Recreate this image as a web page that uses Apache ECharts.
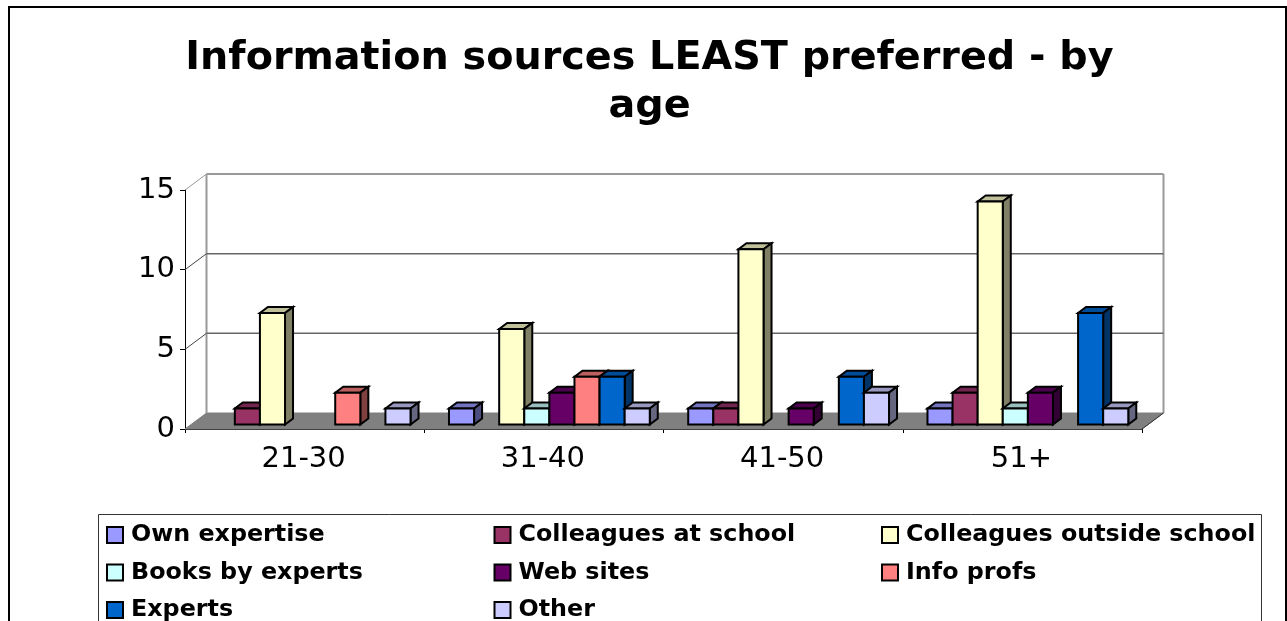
<!DOCTYPE html>
<html>
<head>
<meta charset="utf-8">
<style>html,body{margin:0;padding:0;background:#fff}#chart{width:1287px;height:621px}</style>
<script src="https://cdn.jsdelivr.net/npm/echarts@6/dist/echarts.min.js"></script>
</head>
<body>
<div id="chart"></div>
<script>
const ageGroups = ['21-30', '31-40', '41-50', '51+'];
const yTicks = [0, 5, 10, 15];

const ownExpertise       = [0, 1, 1, 1];
const colleaguesAtSchool = [1, 0, 1, 2];
const colleaguesOutside  = [7, 6, 11, 14];
const booksByExperts     = [0, 1, 0, 1];
const webSites           = [0, 2, 1, 2];
const infoProfs          = [2, 3, 0, 0];
const experts            = [0, 3, 3, 7];
const other              = [1, 1, 2, 1];

const seriesDefs = [
  ['Own expertise', ownExpertise, '#9999FF'],
  ['Colleagues at school', colleaguesAtSchool, '#993366'],
  ['Colleagues outside school', colleaguesOutside, '#FFFFCC'],
  ['Books by experts', booksByExperts, '#CCFFFF'],
  ['Web sites', webSites, '#660066'],
  ['Info profs', infoProfs, '#FF8080'],
  ['Experts', experts, '#0066CC'],
  ['Other', other, '#CCCCFF']
];

// Oblique projection of the chart box
const DEPTH_X = 21.5, DEPTH_Y = -16;
const BAR_DX = 5.5, BAR_DY = -4.5;
const BAR_DEPTH_X = 8, BAR_DEPTH_Y = -6;
const FONT = '"DejaVu Sans", sans-serif';

function shade(hex, k) {
  const n = parseInt(hex.slice(1), 16);
  const c = s => Math.round(((n >> s) & 255) * k);
  return `rgb(${c(16)},${c(8)},${c(0)})`;
}

const poly = (points, fill, stroke, lineWidth) => ({
  type: 'polygon',
  shape: { points },
  style: { fill, stroke, lineWidth, lineJoin: 'miter' }
});
const seg = (x1, y1, x2, y2, stroke, lineWidth) => ({
  type: 'line',
  shape: { x1, y1, x2, y2 },
  style: { stroke, lineWidth }
});

// Walls, floor, gridlines and the depth ticks of the value axis
function renderFrame(params, api) {
  const cs = params.coordSys;
  const x0 = cs.x, x1 = cs.x + cs.width;
  const y0 = api.coord([0, 0])[1];
  const yTop = api.coord([0, yTicks[yTicks.length - 1]])[1];
  const kids = [
    poly([[x0, y0], [x1, y0], [x1 + DEPTH_X, y0 + DEPTH_Y], [x0 + DEPTH_X, y0 + DEPTH_Y]], '#808080', '#808080', 1),
    seg(x0 + DEPTH_X, yTop + DEPTH_Y, x0 + DEPTH_X, y0 + DEPTH_Y, '#999999', 2),
    seg(x1 + DEPTH_X, yTop + DEPTH_Y, x1 + DEPTH_X, y0 + DEPTH_Y, '#999999', 2)
  ];
  yTicks.slice(1).forEach(t => {
    const y = api.coord([0, t])[1];
    const top = t === yTicks[yTicks.length - 1];
    kids.push(seg(x0 + DEPTH_X, y + DEPTH_Y, x1 + DEPTH_X, y + DEPTH_Y, top ? '#999999' : '#666666', top ? 2 : 1.5));
    kids.push(seg(x0, y, x0 + DEPTH_X, y + DEPTH_Y, top ? '#999999' : '#444444', 1));
  });
  kids.push(seg(x1, y0, x1 + DEPTH_X, y0 + DEPTH_Y, '#333333', 1));
  return { type: 'group', children: kids };
}

// One 3D bar: top face, right side and front face
function renderBar(seriesIndex, color) {
  return function (params, api) {
    const cat = api.value(0), val = api.value(1);
    if (!val) return null;
    const w = 25.1;
    const cx = api.coord([cat, 0])[0] + BAR_DX;
    const left = cx + (seriesIndex - seriesDefs.length / 2) * w;
    const right = left + w;
    const base = api.coord([cat, 0])[1] + BAR_DY;
    const top = api.coord([cat, val])[1] + BAR_DY;
    const dx = BAR_DEPTH_X, dy = BAR_DEPTH_Y;
    return {
      type: 'group',
      children: [
        poly([[left, top], [right, top], [right + dx, top + dy], [left + dx, top + dy]], shade(color, 0.75), '#000', 2),
        poly([[right, top], [right + dx, top + dy], [right + dx, base + dy], [right, base]], shade(color, 0.5), '#000', 2),
        poly([[left, top], [right, top], [right, base], [left, base]], color, '#000', 2)
      ]
    };
  };
}

const frameSeries = {
  type: 'custom',
  silent: true,
  z: 1,
  renderItem: renderFrame,
  data: [[0, 0]],
  encode: { x: 0, y: 1 }
};

const barSeries = seriesDefs.map(([name, values, color], i) => ({
  name,
  type: 'custom',
  z: 2,
  renderItem: renderBar(i, color),
  itemStyle: { color, borderColor: '#000', borderWidth: 2 },
  data: values.map((v, c) => [c, v]),
  encode: { x: 0, y: 1 }
}));

// The key is a three-column table, so each entry gets its own legend block
const legendColumns = [106, 493.5, 881];
const legendRows = [523, 560.5, 598];
const legends = seriesDefs.map(([name], i) => ({
  data: [name],
  left: legendColumns[i % 3],
  top: legendRows[Math.floor(i / 3)],
  padding: 0,
  itemWidth: 16,
  itemHeight: 16,
  icon: 'rect',
  selectedMode: false,
  textStyle: { fontFamily: FONT, fontSize: 23.8, fontWeight: 'bold', color: '#000', padding: [5, 0, 0, 3] }
}));

const chart = echarts.init(document.getElementById('chart'), null, { renderer: 'canvas' });
chart.setOption({
  animation: false,
  backgroundColor: '#fff',
  title: {
    text: 'Information sources LEAST preferred - by\nage',
    left: 644.5,
    top: 30,
    textAlign: 'center',
    textStyle: { fontFamily: FONT, fontSize: 39.7, fontWeight: 'bold', color: '#000', lineHeight: 48 }
  },
  grid: { left: 185, top: 190, width: 957, height: 239 },
  xAxis: {
    type: 'category',
    data: ageGroups,
    axisLine: { lineStyle: { color: '#000', width: 1 } },
    axisTick: { show: true, length: 4, lineStyle: { color: '#000' } },
    axisLabel: { fontFamily: FONT, fontSize: 29, color: '#000', margin: 16, padding: [0, 2, 0, 0] }
  },
  yAxis: {
    type: 'value',
    min: 0,
    max: 15,
    interval: 5,
    axisLine: { show: true, lineStyle: { color: '#000', width: 1 } },
    axisTick: { show: true, length: 5, lineStyle: { color: '#000' } },
    splitLine: { show: false },
    axisLabel: { fontFamily: FONT, fontSize: 29, color: '#000', margin: 10, padding: [4, 0, 0, 0] }
  },
  legend: legends,
  graphic: [
    { type: 'rect', silent: true, z: -1, shape: { x: 9, y: 7, width: 1277, height: 640 }, style: { fill: '#fff', stroke: '#000', lineWidth: 2 } },
    { type: 'rect', silent: true, z: -1, shape: { x: 98.5, y: 514.5, width: 1163, height: 130 }, style: { fill: '#fff', stroke: '#333', lineWidth: 1 } }
  ],
  series: [frameSeries].concat(barSeries)
});
</script>
</body>
</html>
